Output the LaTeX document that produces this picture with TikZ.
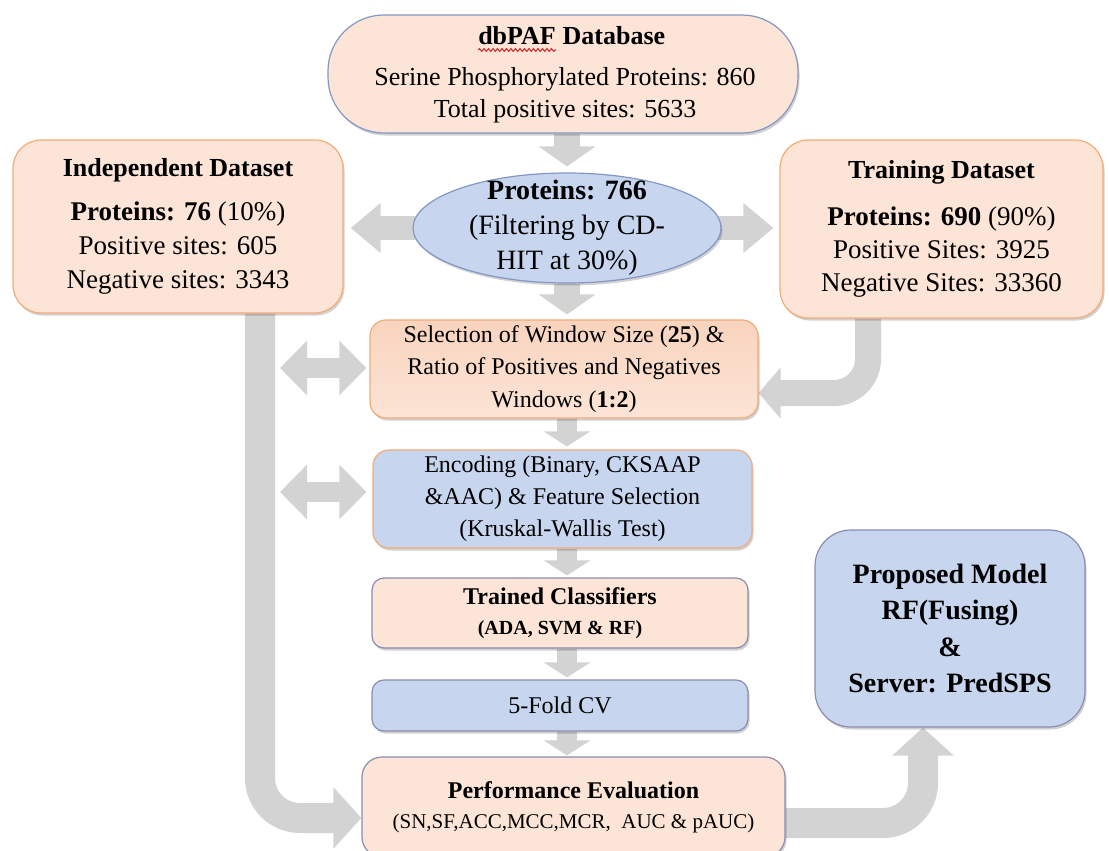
\documentclass[tikz,border=0pt]{standalone}
\usepackage{fontspec}
\setmainfont{Liberation Serif}
\usetikzlibrary{arrows.meta,shapes.geometric,shadows,decorations.pathmorphing}

\definecolor{peach}{HTML}{FCE4D6}
\definecolor{peachtop}{HTML}{F9D4BE}
\definecolor{skyfill}{HTML}{C7D6EE}
\definecolor{orangeline}{HTML}{F2AC78}
\definecolor{slateline}{HTML}{8B8CB0}
\definecolor{blueline}{HTML}{8497C4}
\definecolor{arrowgray}{HTML}{D3D3D3}
\definecolor{spellred}{HTML}{D03030}

\pgfdeclarelayer{canvas}
\pgfdeclarelayer{flow}
\pgfsetlayers{canvas,flow,main}

\newcommand\fs[2]{\fontsize{#1}{#2}\selectfont}

\tikzset{
  box/.style={draw, line width=1.2pt, inner sep=0pt, align=center,
    drop shadow={shadow xshift=1.5pt, shadow yshift=-2.5pt, opacity=0.18, fill=black}},
  peachbox/.style={box, fill=peach},
  bluebox/.style={box, fill=skyfill},
  label/.style={inner sep=0pt, align=center},
  downarrow/.style={draw=arrowgray, line width=20pt, -{Triangle[width=46pt,length=15pt]}},
  widedown/.style={draw=arrowgray, line width=26pt, -{Triangle[width=56pt,length=20pt]}},
  sidearrow/.style={draw=arrowgray, line width=24pt, -{Triangle[width=48pt,length=30pt]}},
  twoway/.style={draw=arrowgray, line width=20pt,
    {Triangle[width=53pt,length=27pt]}-{Triangle[width=53pt,length=27pt]}},
  bendarrow/.style={draw=arrowgray, line width=30pt, rounded corners=40pt,
    -{Triangle[width=60pt,length=28pt]}},
  bendarrowsmall/.style={draw=arrowgray, line width=26pt, rounded corners=34pt,
    -{Triangle[width=50pt,length=22pt]}},
  squiggle/.style={draw=spellred, line width=1.1pt, decorate,
    decoration={snake, amplitude=1.3pt, segment length=4.5pt}},
}

\begin{document}
\begin{tikzpicture}[x=1pt, y=-1pt]
\useasboundingbox (0,0) rectangle (1109,851);
\begin{pgfonlayer}{canvas}
  \fill[white] (0,0) rectangle (1109,851);
\end{pgfonlayer}

% source database
\node[box, draw=blueline, fill=peach, rounded corners=56pt,
      minimum width=470pt, minimum height=118pt] (db) at (563,74) {};
\node[label, font=\fs{26}{30}\bfseries, anchor=base east] (dbword) at (556,45) {dbPAF};
\node[label, font=\fs{26}{30}\bfseries, anchor=base west] (dbrest) at (dbword.base east) {\ Database};
\node[label, font=\fs{26}{32}] (dbinfo) at (565,95)
  {Serine Phosphorylated Proteins: 860\\Total positive sites: 5633};
\draw[squiggle] ([yshift=-5pt]dbword.base west) -- ([yshift=-5pt]dbword.base east);

% filtered proteins
\node[ellipse, draw=blueline, fill=skyfill, line width=1.2pt, inner sep=0pt,
      minimum width=308pt, minimum height=110pt,
      drop shadow={shadow xshift=1.5pt, shadow yshift=-2.5pt, opacity=0.18, fill=black}]
  (ell) at (567,228) {};
\node[label, font=\fs{28}{35}] (ellT) at (567,228)
  {\textbf{Proteins: 766}\\(Filtering by CD-\\HIT at 30\%)};

% split datasets
\node[peachbox, draw=orangeline, rounded corners=28pt,
      minimum width=330pt, minimum height=173pt, font=\fs{27}{34}] (ind) at (178,226.5)
  {{\fs{26}{34}\bfseries Independent Dataset}\\[10pt]\textbf{Proteins: 76} (10\%)\\Positive sites: 605\\Negative sites: 3343};
\node[peachbox, draw=orangeline, rounded corners=28pt,
      minimum width=323pt, minimum height=178pt, font=\fs{27}{33}] (train) at (941.5,229)
  {{\fs{26}{33}\bfseries Training Dataset}\\[14pt]\textbf{Proteins: 690} (90\%)\\Positive Sites: 3925\\Negative Sites: 33360};

% pipeline
\node[box, draw=orangeline, top color=peachtop, bottom color=peach, rounded corners=16pt,
      minimum width=388pt, minimum height=98pt, font=\fs{24}{32.5}] (sel) at (564,369)
  {Selection of Window Size (\textbf{25}) \&\\Ratio of Positives and Negatives\\Windows (\textbf{1:2})};
\node[bluebox, draw=orangeline, rounded corners=16pt,
      minimum width=379pt, minimum height=98pt, font=\fs{24}{32}] (enc) at (562.5,499)
  {Encoding (Binary, CKSAAP\\\&AAC) \& Feature Selection\\(Kruskal-Wallis Test)};
\node[peachbox, draw=slateline, rounded corners=12pt,
      minimum width=376pt, minimum height=70pt, font=\fs{24}{30}\bfseries] (cls) at (560,613)
  {Trained Classifiers\\{\fs{20}{30}\bfseries (ADA, SVM \& RF)}};
\node[bluebox, draw=slateline, rounded corners=12pt,
      minimum width=376pt, minimum height=51pt, font=\fs{24}{30}] (cv) at (560,705.5)
  {5-Fold CV};
\node[peachbox, draw=slateline, rounded corners=20pt,
      minimum width=423pt, minimum height=100pt, font=\fs{24}{30}] (perf) at (573.5,807)
  {\textbf{Performance Evaluation}\\{\fs{21}{30}(SN,SF,ACC,MCC,MCR,\ \ AUC \& pAUC)}};
\node[bluebox, draw=slateline, rounded corners=36pt,
      minimum width=270pt, minimum height=197pt, font=\fs{28}{36.5}\bfseries] (prop) at (950,628.5)
  {Proposed Model\\RF(Fusing)\\\&\\Server: PredSPS};

\coordinate (spine) at (567,0);
\coordinate (selL) at (280,368);
\coordinate (encL) at (280,492);

\begin{pgfonlayer}{flow}
  \draw[widedown, shorten >=6pt] (db.south -| spine) -- (ell.north);
  \draw[widedown, shorten >=5pt] (ell.south) -- (sel.north -| spine);
  \draw[downarrow, shorten >=3pt] (sel.south -| spine) -- (enc.north -| spine);
  \draw[downarrow, shorten >=2pt] (enc.south -| spine) -- (cls.north -| spine);
  \draw[downarrow, shorten >=2pt] (cls.south -| spine) -- (cv.north -| spine);
  \draw[downarrow, shorten >=1pt] (cv.south -| spine) -- (perf.north -| spine);

  \draw[sidearrow, shorten >=7pt] ([xshift=40pt]ell.west) -- (ind.east |- ell.center);
  \draw[sidearrow, shorten >=6pt] ([xshift=-40pt]ell.east) -- (train.west |- ell.center);

  \draw[twoway, shorten >=3pt] (selL) -- (sel.west |- selL);
  \draw[twoway, shorten >=6pt] (encL) -- (enc.west |- encL);

  \draw[bendarrow] ([xshift=82pt]ind.south) |- ([yshift=-11pt]perf.west);
  \draw[bendarrowsmall] ([xshift=-73.5pt]train.south) |- ([yshift=-24pt]sel.east);
  \draw[bendarrow] ([yshift=-16pt]perf.east) -| ([xshift=-27pt]prop.south);
\end{pgfonlayer}
\end{tikzpicture}
\end{document}
